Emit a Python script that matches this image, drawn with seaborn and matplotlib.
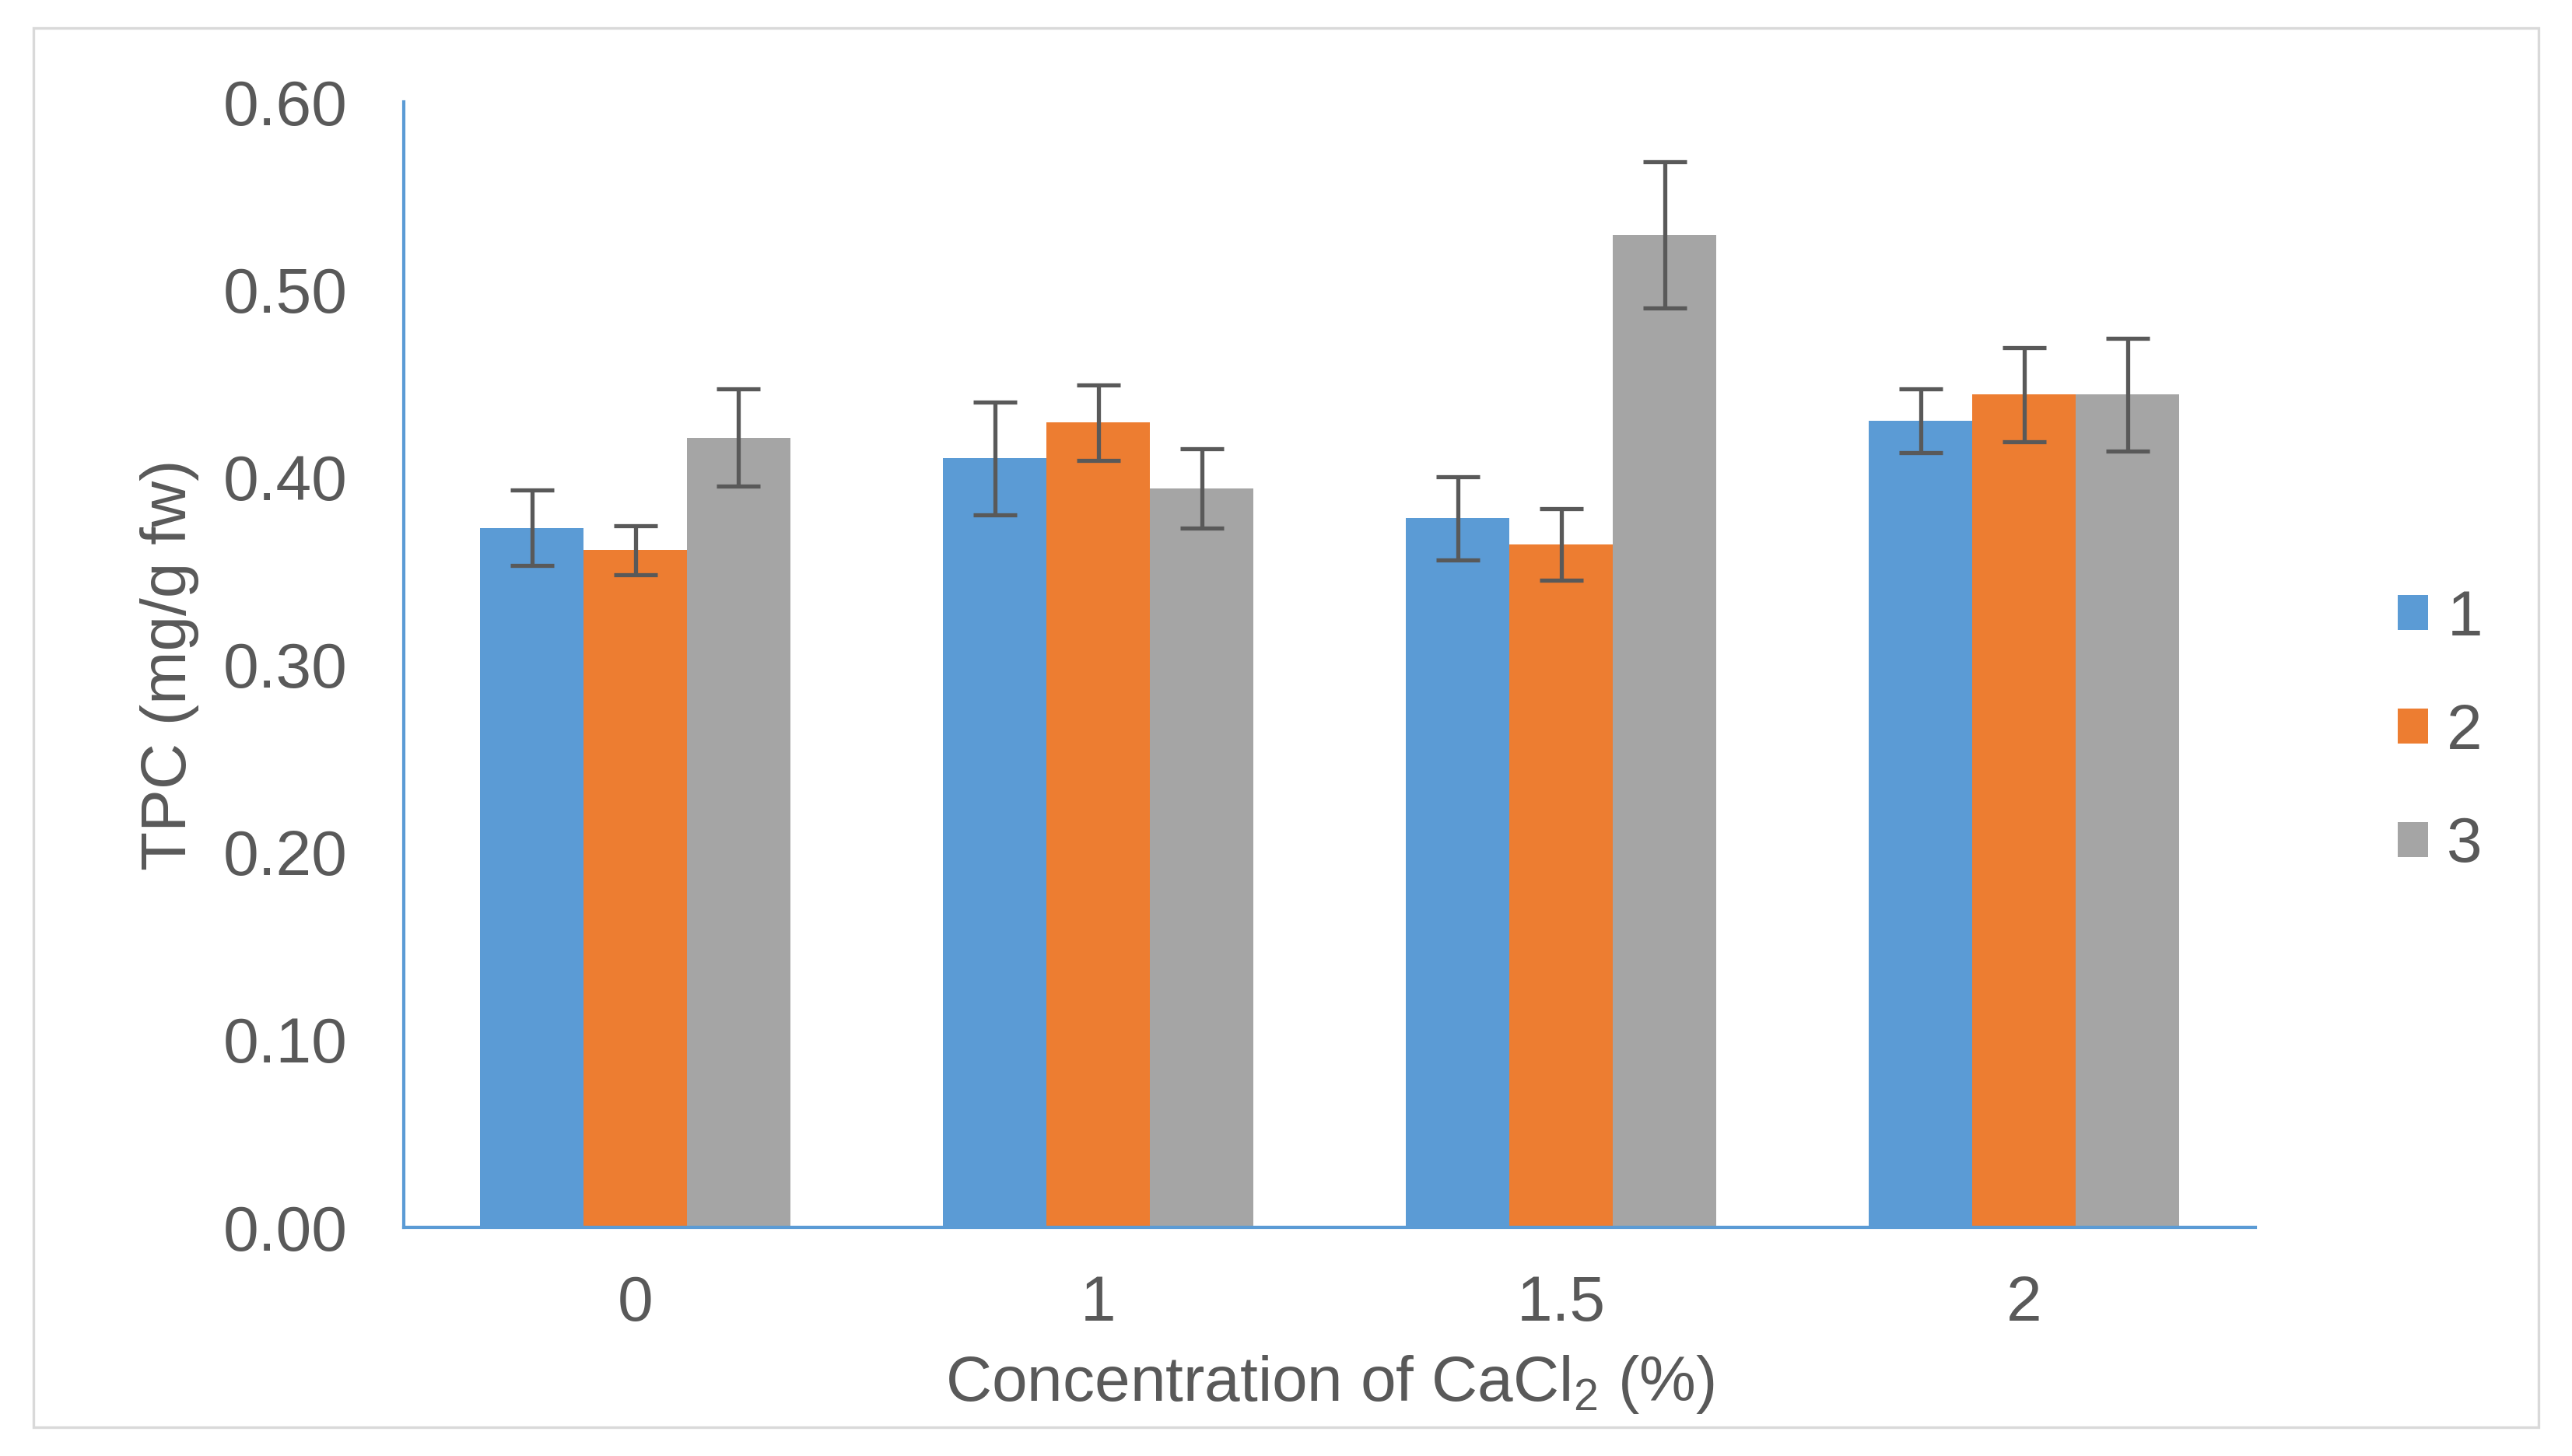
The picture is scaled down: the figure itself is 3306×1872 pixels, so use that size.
import matplotlib
matplotlib.use("Agg")
from matplotlib import pyplot as plt
from matplotlib.patches import Rectangle
import pandas as pd
import seaborn as sns

# CaCl2 concentration groups and the three series
concentrations = ["0", "1", "1.5", "2"]
series = ["1", "2", "3"]

tpc_1 = [0.373, 0.410, 0.378, 0.430]
tpc_2 = [0.361, 0.429, 0.364, 0.444]
tpc_3 = [0.421, 0.394, 0.529, 0.444]

err_1 = [0.020, 0.030, 0.022, 0.017]
err_2 = [0.013, 0.020, 0.019, 0.025]
err_3 = [0.026, 0.021, 0.039, 0.030]

y_ticks = [0.0, 0.1, 0.2, 0.3, 0.4, 0.5, 0.6]

colors = ["#5B9BD5", "#ED7D31", "#A5A5A5"]
text_color = "#595959"

sns.set_style("white")
plt.rcParams['font.family'] = ['Liberation Sans', 'DejaVu Sans']
plt.rcParams['mathtext.fontset'] = 'custom'
plt.rcParams['mathtext.rm'] = 'Liberation Sans'
plt.rcParams['mathtext.it'] = 'Liberation Sans'

values = [tpc_1, tpc_2, tpc_3]
errors = [err_1, err_2, err_3]
rows = []
for s, vals in zip(series, values):
    for c, v in zip(concentrations, vals):
        rows.append({'conc': c, 'series': s, 'tpc': v})
df = pd.DataFrame(rows)

fig = plt.figure(figsize=(16.53, 9.36), dpi=200)
ax = fig.add_axes([0.157, 0.157, 0.720, 0.773])

sns.barplot(data=df, x='conc', y='tpc', hue='series', order=concentrations,
            hue_order=series, palette=colors, saturation=1, width=0.67,
            errorbar=None, linewidth=0, ax=ax)

# error bars placed on the bars seaborn drew
for container, errs in zip(ax.containers, errors):
    for bar, e in zip(container, errs):
        xc = bar.get_x() + bar.get_width() / 2
        ax.errorbar(xc, bar.get_height(), yerr=e, fmt='none', ecolor=text_color,
                    elinewidth=1.9, capsize=10, capthick=1.9, zorder=5)

ax.set_xlim(-0.5, 3.5)
ax.set_ylim(0, 0.6)
ax.set_yticks(y_ticks)
ax.set_yticklabels([f"{t:.2f}" for t in y_ticks])

for side in ['top', 'right']:
    ax.spines[side].set_visible(False)
for side in ['left', 'bottom']:
    ax.spines[side].set_color("#5B9BD5")
    ax.spines[side].set_linewidth(1.5)

ax.tick_params(axis='both', length=0, labelsize=29.5, labelcolor=text_color)
ax.tick_params(axis='y', pad=26)
ax.tick_params(axis='x', pad=22)

ax.set_xlabel("Concentration of CaCl$_2$ (%)", fontsize=29.5, color=text_color, labelpad=9)
ax.set_ylabel("TPC (mg/g fw)", fontsize=29.5, color=text_color, labelpad=11)

handles, labels = ax.get_legend_handles_labels()
ax.legend(handles, labels, loc='center left', bbox_to_anchor=(0.910, 0.497),
          bbox_transform=fig.transFigure, frameon=False, fontsize=29.5,
          handlelength=0.47, handleheight=0.47, handletextpad=0.3,
          labelspacing=0.85, labelcolor=text_color)

# light outer frame
fig.patches.append(Rectangle((0.013, 0.02), 0.974, 0.961, transform=fig.transFigure,
                             fill=False, edgecolor="#D9D9D9", linewidth=1.2))

fig.savefig("out.png", dpi=200, facecolor="white")
